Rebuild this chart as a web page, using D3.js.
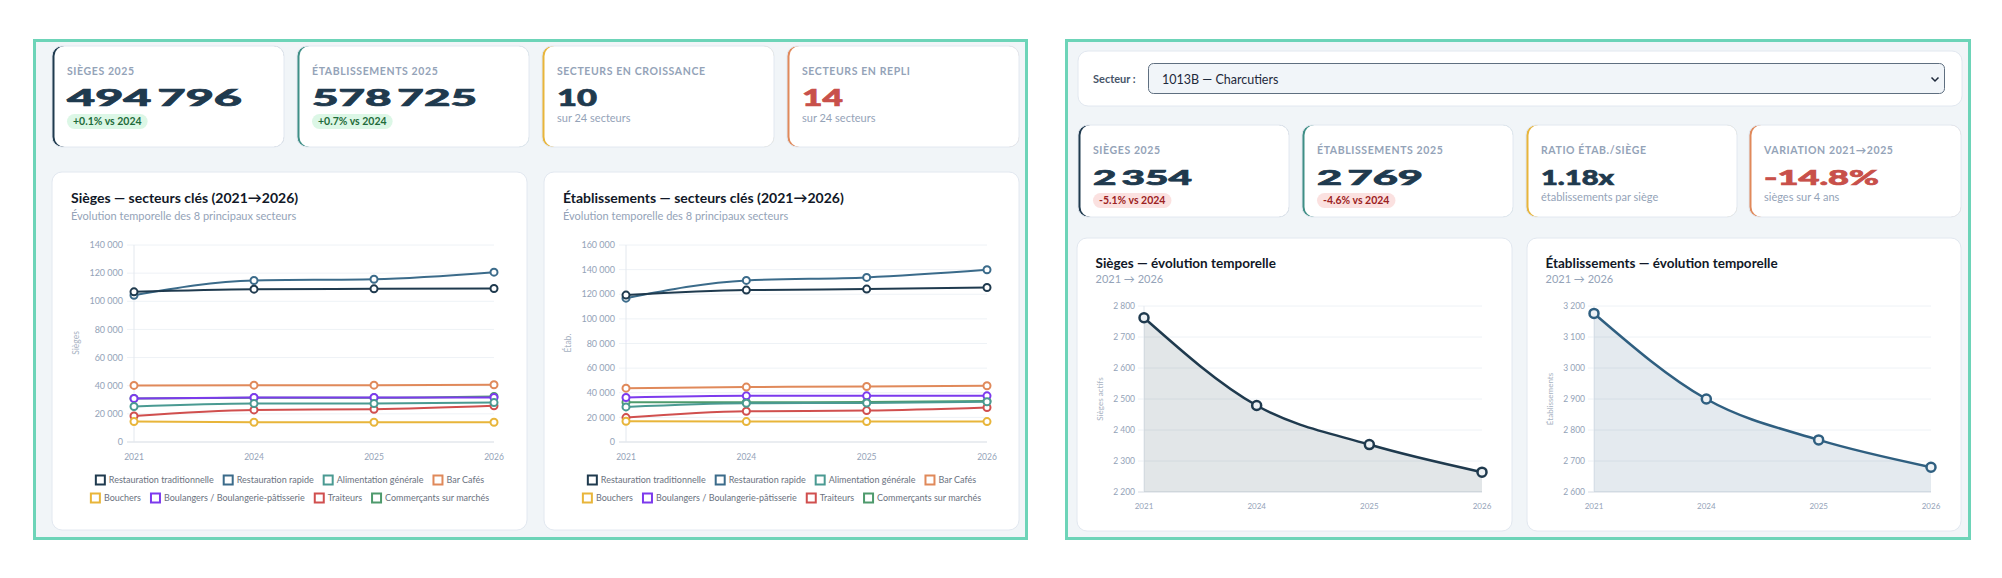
<!DOCTYPE html>
<html>
<head>
<meta charset="utf-8">
<script src="https://cdn.jsdelivr.net/npm/d3@7"></script>
<style>
  html, body { margin: 0; padding: 0; background: #fff; }
  svg { display: block; font-family: Lato, "Noto Sans", sans-serif; }
</style>
</head>
<body>
<div id="chart"></div>
<script>
// ---- data ----
var years = ["2021", "2024", "2025", "2026"];

var sectorNames = ["Restauration traditionnelle", "Restauration rapide", "Alimentation générale", "Bar Cafés",
  "Bouchers", "Boulangers / Boulangerie-pâtisserie", "Traiteurs", "Commerçants sur marchés"];
var sectorColors = ["#1f3a4e", "#3b6b8a", "#4a9a92", "#e0895a", "#e8b53a", "#7c3aed", "#d04f4e", "#4e9a6c"];

var siegesBySector = [
  [106700, 108600, 108850, 109100],
  [104300, 114800, 115700, 120700],
  [25200, 27300, 27300, 28000],
  [40200, 40400, 40400, 40650],
  [14500, 14000, 14000, 14000],
  [30900, 31600, 31600, 31600],
  [18500, 22800, 23300, 25700],
  [31000, 31400, 31400, 32300]
];
var etabBySector = [
  [119300, 123400, 124200, 125500],
  [116800, 131250, 133700, 139900],
  [28500, 31500, 31700, 32700],
  [43750, 44600, 45100, 45650],
  [16850, 16600, 16600, 16600],
  [36100, 37500, 37500, 37500],
  [19800, 25000, 25500, 28000],
  [32300, 32300, 32400, 33200]
];

var globalLabels = ["SIÈGES 2025", "ÉTABLISSEMENTS 2025", "SECTEURS EN CROISSANCE", "SECTEURS EN REPLI"];
var globalValues = ["494\u2009796", "578\u2009725", "10", "14"];
var globalNotes = ["+0.1% vs 2024", "+0.7% vs 2024", "sur 24 secteurs", "sur 24 secteurs"];

var selectedSector = "1013B — Charcutiers";
var sectorSieges = [2762, 2479, 2353, 2264];
var sectorEtab = [3176, 2900, 2768, 2680];

var sectorLabels = ["SIÈGES 2025", "ÉTABLISSEMENTS 2025", "RATIO ÉTAB./SIÈGE", "VARIATION 2021→2025"];
var sectorValues = ["2\u2009354", "2\u2009769", "1.18x", "-14.8%"];
var sectorNotes = ["-5.1% vs 2024", "-4.6% vs 2024", "établissements par siège", "sièges sur 4 ans"];

// ---- helpers ----
var W = 2002, H = 578;
var svg = d3.select("#chart").append("svg").attr("width", W).attr("height", H);

var fmt = function(v) { return d3.format(",")(v).replace(/,/g, "\u202f"); };

function card(x, y, w, h) {
  svg.append("rect").attr("x", x).attr("y", y).attr("width", w).attr("height", h)
    .attr("rx", 10).attr("fill", "#fff").attr("stroke", "#e2e8f0");
}

function kpiCard(x, y, w, h, accent, label, value, valueW, valueSize, valueColor, note, noteType) {
  svg.append("rect").attr("x", x).attr("y", y).attr("width", w).attr("height", h)
    .attr("rx", 10).attr("fill", accent);
  svg.append("rect").attr("x", x + 2.5).attr("y", y).attr("width", w - 2.5).attr("height", h)
    .attr("rx", 10).attr("fill", "#fff");
  svg.append("rect").attr("x", x).attr("y", y).attr("width", w).attr("height", h)
    .attr("rx", 10).attr("fill", "none").attr("stroke", "#e2e8f0");
  var tx = x + 15;
  svg.append("text").attr("x", tx).attr("y", y + 28.5).text(label)
    .attr("font-size", "10.5px").attr("font-weight", 700).attr("letter-spacing", "0.6px").attr("fill", "#94a3b8");
  svg.append("text").attr("x", tx).attr("y", y + 60).text(value)
    .attr("font-size", valueSize + "px").attr("font-weight", 900).attr("fill", valueColor)
    .attr("stroke", valueColor).attr("stroke-width", 0.7)
    .attr("textLength", valueW).attr("lengthAdjust", "spacingAndGlyphs");
  if (noteType == "text") {
    svg.append("text").attr("x", tx).attr("y", y + 76).text(note)
      .attr("font-size", "11px").attr("fill", "#94a3b8");
  } else {
    var bg = noteType == "up" ? "#dcf7e6" : "#fbe1e0";
    var fg = noteType == "up" ? "#1f6b3a" : "#9b2222";
    var pill = svg.append("rect").attr("x", tx).attr("y", y + 68).attr("height", 15).attr("rx", 7.5).attr("fill", bg);
    var t = svg.append("text").attr("x", tx + 6).attr("y", y + 79).text(note)
      .attr("font-size", "10.5px").attr("font-weight", 700).attr("fill", fg);
    pill.attr("width", t.node().getComputedTextLength() + 12);
  }
}

// ---- panels ----
svg.append("rect").attr("x", 34.5).attr("y", 40.5).attr("width", 992).attr("height", 498)
  .attr("fill", "#f1f5f8").attr("stroke", "#6dd4b8").attr("stroke-width", 3);
svg.append("rect").attr("x", 1066.5).attr("y", 40.5).attr("width", 903).attr("height", 498)
  .attr("fill", "#f1f5f8").attr("stroke", "#6dd4b8").attr("stroke-width", 3);

// ---- global KPI cards ----
var gAccents = ["#1f3a4e", "#3f8f86", "#e8b53a", "#e0895a"];
var gX = [52, 297, 542, 787];
var gValW = [175, 165, 40, 41];
var gNoteType = ["up", "up", "text", "text"];
var gValColor = ["#1f3a4e", "#1f3a4e", "#1f3a4e", "#c8504a"];
for (var i = 0; i < 4; i++)
  kpiCard(gX[i], 46, 232, 101, gAccents[i], globalLabels[i], globalValues[i], gValW[i], 23, gValColor[i], globalNotes[i], gNoteType[i]);

// ---- multi-line charts ----
function multiLineChart(cx, cw, plotX0, plotX1, data, yMax, yTitle, title) {
  card(cx, 172, cw, 358);
  svg.append("text").attr("x", cx + 19).attr("y", 203).text(title)
    .attr("font-size", "14px").attr("font-weight", 700).attr("fill", "#111827");
  svg.append("text").attr("x", cx + 19).attr("y", 220).text("Évolution temporelle des 8 principaux secteurs")
    .attr("font-size", "11px").attr("fill", "#94a3b8");

  var x = d3.scalePoint().domain(years).range([plotX0, plotX1]);
  var y = d3.scaleLinear().domain([0, yMax]).range([442, 245]);
  var g = svg.append("g");

  g.selectAll("line.grid").data(y.ticks(yMax / 20000)).enter().append("line")
    .attr("x1", plotX0 - 7).attr("x2", plotX1).attr("y1", function(d) { return y(d); }).attr("y2", function(d) { return y(d); })
    .attr("stroke", function(d) { return d == 0 ? "#d5dbe3" : "#eef2f6"; });
  g.append("line").attr("x1", plotX0).attr("x2", plotX0).attr("y1", 245).attr("y2", 442).attr("stroke", "#e3e8ee");
  g.selectAll("text.yt").data(y.ticks(yMax / 20000)).enter().append("text")
    .attr("x", plotX0 - 11).attr("y", function(d) { return y(d); }).attr("dy", "0.35em")
    .attr("text-anchor", "end").attr("font-size", "9px").attr("fill", "#94a3b8").text(fmt);
  g.selectAll("text.xt").data(years).enter().append("text")
    .attr("x", function(d) { return x(d); }).attr("y", 460).attr("text-anchor", "middle")
    .attr("font-size", "8.5px").attr("fill", "#94a3b8").text(function(d) { return d; });
  g.append("text").attr("transform", "translate(" + (plotX0 - 55) + ",343) rotate(-90)")
    .attr("text-anchor", "middle").attr("font-size", "8.5px").attr("fill", "#a7b2c2").text(yTitle);

  var line = d3.line().x(function(d, i) { return x(years[i]); }).y(function(d) { return y(d); })
    .curve(d3.curveMonotoneX);
  // first dataset on top, like the source
  for (var s = data.length - 1; s >= 0; s--) {
    g.append("path").attr("d", line(data[s])).attr("fill", "none")
      .attr("stroke", sectorColors[s]).attr("stroke-width", 2);
    g.selectAll(null).data(data[s]).enter().append("circle")
      .attr("cx", function(d, i) { return x(years[i]); }).attr("cy", function(d) { return y(d); })
      .attr("r", 3.5).attr("fill", "#fff").attr("stroke", sectorColors[s]).attr("stroke-width", 2);
  }

  // legend, two centered rows
  var rows = [sectorNames.slice(0, 4), sectorNames.slice(4)];
  rows.forEach(function(names, r) {
    var lg = svg.append("g");
    var cursor = 0;
    names.forEach(function(n, k) {
      var idx = r * 4 + k;
      lg.append("rect").attr("x", cursor + 1).attr("y", -4).attr("width", 9).attr("height", 9)
        .attr("fill", "#fff").attr("stroke", sectorColors[idx]).attr("stroke-width", 2);
      var t = lg.append("text").attr("x", cursor + 14).attr("y", 0).attr("dy", "0.35em")
        .attr("font-size", "9px").attr("fill", "#6b7280").text(n);
      cursor += 14 + t.node().getComputedTextLength() + 9;
    });
    cursor -= 9;
    lg.attr("transform", "translate(" + (cx + cw / 2 - cursor / 2) + "," + (479.5 + r * 18) + ")");
  });
}

multiLineChart(52, 475, 134, 494, siegesBySector, 140000, "Sièges", "Sièges — secteurs clés (2021→2026)");
multiLineChart(544, 475, 626, 987, etabBySector, 160000, "Étab.", "Établissements — secteurs clés (2021→2026)");

// ---- sector selector ----
card(1078, 51, 884, 55);
svg.append("text").attr("x", 1093).attr("y", 83).text("Secteur :")
  .attr("font-size", "11px").attr("font-weight", 700).attr("fill", "#475569");
svg.append("rect").attr("x", 1148.5).attr("y", 63.5).attr("width", 796).attr("height", 30)
  .attr("rx", 5).attr("fill", "#f1f5f9").attr("stroke", "#5f6f80");
svg.append("text").attr("x", 1162).attr("y", 83.5).text(selectedSector)
  .attr("font-size", "12.5px").attr("fill", "#1e293b");
svg.append("path").attr("d", "M1931.5,77.5 l3.5,3.5 l3.5,-3.5").attr("fill", "none")
  .attr("stroke", "#1e293b").attr("stroke-width", 1.5);

// ---- sector KPI cards ----
var sAccents = ["#1f3a4e", "#3f8f86", "#e8b53a", "#e0895a"];
var sX = [1078, 1302, 1526, 1749];
var sW = [211, 211, 211, 212];
var sValW = [99, 106, 73, 115];
var sNoteType = ["down", "down", "text", "text"];
var sValColor = ["#1f3a4e", "#1f3a4e", "#1f3a4e", "#c8504a"];
for (var j = 0; j < 4; j++)
  kpiCard(sX[j], 125, sW[j], 92, sAccents[j], sectorLabels[j], sectorValues[j], sValW[j], 21, sValColor[j], sectorNotes[j], sNoteType[j]);

// ---- sector area charts ----
function areaChart(cx, cw, plotX0, plotX1, values, domain, color, yTitle, title) {
  card(cx, 238, cw, 293);
  svg.append("text").attr("x", cx + 18.5).attr("y", 268).text(title)
    .attr("font-size", "13.5px").attr("font-weight", 700).attr("fill", "#111827");
  svg.append("text").attr("x", cx + 18.5).attr("y", 283).text("2021 → 2026")
    .attr("font-size", "11px").attr("fill", "#94a3b8");

  var x = d3.scalePoint().domain(years).range([plotX0, plotX1]);
  var y = d3.scaleLinear().domain(domain).range([492, 306]);
  var ticks = y.ticks(6);
  var g = svg.append("g");

  g.selectAll("line.grid").data(ticks).enter().append("line")
    .attr("x1", plotX0 - 6).attr("x2", plotX1).attr("y1", function(d) { return y(d); }).attr("y2", function(d) { return y(d); })
    .attr("stroke", function(d, i) { return i == 0 ? "#d5dbe3" : "#eef2f6"; });
  g.append("line").attr("x1", plotX0).attr("x2", plotX0).attr("y1", 306).attr("y2", 492).attr("stroke", "#e3e8ee");
  g.selectAll("text.yt").data(ticks).enter().append("text")
    .attr("x", plotX0 - 9).attr("y", function(d) { return y(d); }).attr("dy", "0.35em")
    .attr("text-anchor", "end").attr("font-size", "8.5px").attr("fill", "#94a3b8").text(fmt);
  g.selectAll("text.xt").data(years).enter().append("text")
    .attr("x", function(d) { return x(d); }).attr("y", 509).attr("text-anchor", "middle")
    .attr("font-size", "8px").attr("fill", "#94a3b8").text(function(d) { return d; });
  g.append("text").attr("transform", "translate(" + (plotX0 - 41) + ",399) rotate(-90)")
    .attr("text-anchor", "middle").attr("font-size", "8px").attr("fill", "#a7b2c2").text(yTitle);

  var area = d3.area().x(function(d, i) { return x(years[i]); }).y0(492).y1(function(d) { return y(d); })
    .curve(d3.curveMonotoneX);
  var line = d3.line().x(function(d, i) { return x(years[i]); }).y(function(d) { return y(d); })
    .curve(d3.curveMonotoneX);
  g.append("path").attr("d", area(values)).attr("fill", color).attr("fill-opacity", 0.13);
  g.append("path").attr("d", line(values)).attr("fill", "none").attr("stroke", color).attr("stroke-width", 2.5);
  g.selectAll("circle").data(values).enter().append("circle")
    .attr("cx", function(d, i) { return x(years[i]); }).attr("cy", function(d) { return y(d); })
    .attr("r", 4.5).attr("fill", "#eef2f5").attr("stroke", color).attr("stroke-width", 2.5);
}

areaChart(1077, 435, 1144, 1482, sectorSieges, [2200, 2800], "#1f3a4e", "Sièges actifs", "Sièges — évolution temporelle");
areaChart(1527, 434, 1594, 1931, sectorEtab, [2600, 3200], "#2f5f80", "Établissements", "Établissements — évolution temporelle");
</script>
</body>
</html>
